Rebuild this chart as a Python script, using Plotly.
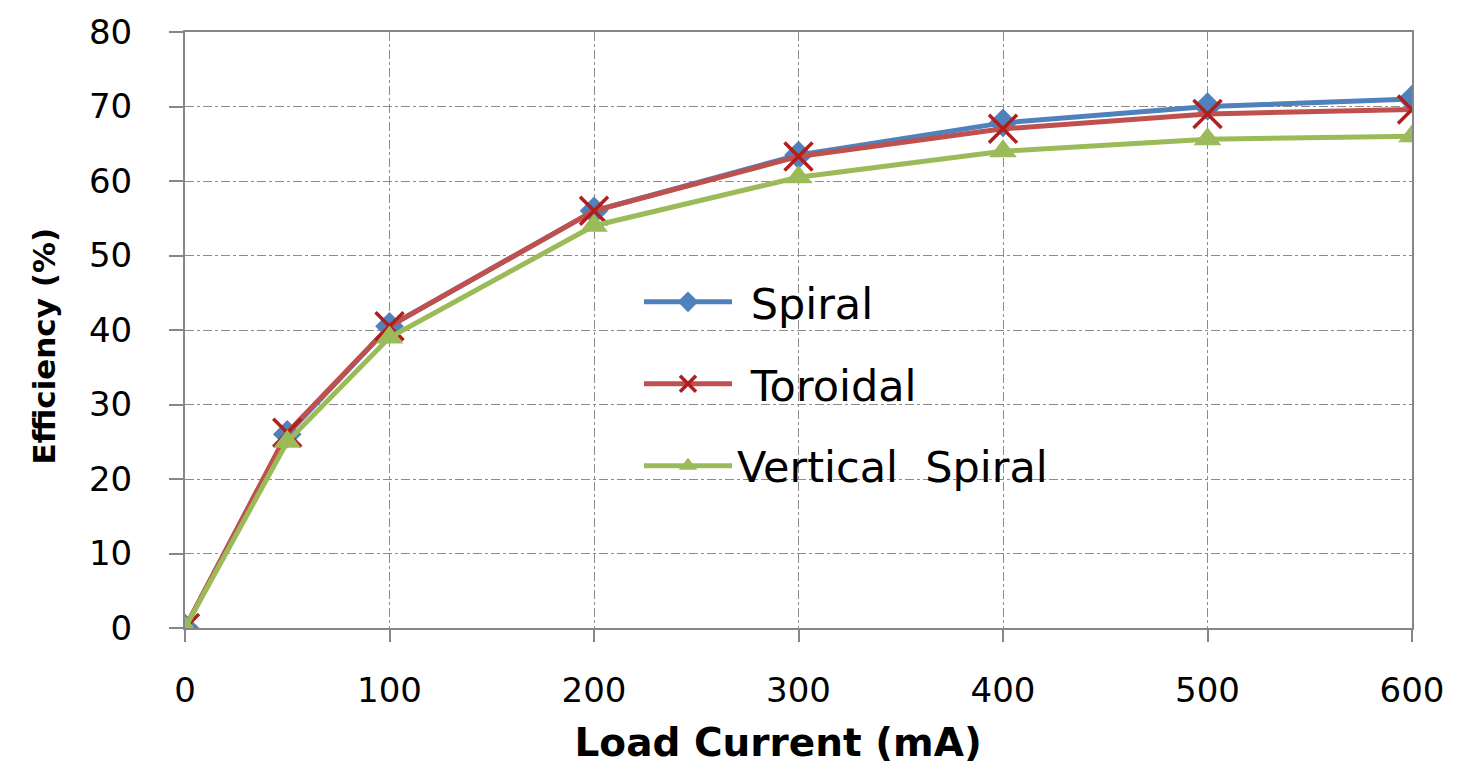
import plotly.graph_objects as go

load_current = [0, 50, 100, 200, 300, 400, 500, 600]
spiral = [0, 26, 40.5, 56, 63.5, 67.8, 70, 71]
toroidal = [0, 26.2, 40.5, 56, 63.3, 67, 69, 69.6]
vertical_spiral = [0, 25, 39, 54, 60.5, 64, 65.6, 66]

x_ticks = [0, 100, 200, 300, 400, 500, 600]
y_ticks = [0, 10, 20, 30, 40, 50, 60, 70, 80]

fig = go.Figure()
fig.add_trace(go.Scatter(x=load_current, y=spiral, mode="lines+markers",
                         name="\u00a0Spiral", legendgroup="a",
                         line=dict(color="#4F81BD", width=5),
                         marker=dict(symbol="diamond", size=22, color="#4F81BD")))
fig.add_trace(go.Scatter(x=load_current, y=toroidal, mode="lines+markers",
                         name="\u00a0Toroidal", legendgroup="b",
                         line=dict(color="#C0504D", width=5),
                         marker=dict(symbol="x-thin", size=28,
                                     line=dict(color="#B01E1E", width=3.5))))
fig.add_trace(go.Scatter(x=load_current, y=vertical_spiral, mode="lines+markers",
                         name="Vertical\u00a0\u00a0Spiral", legendgroup="c",
                         line=dict(color="#9BBB59", width=5),
                         marker=dict(symbol="triangle-up", size=24, color="#9BBB59")))

fig.update_layout(
    width=1457, height=773,
    margin=dict(l=185, r=45, t=25, b=145),
    plot_bgcolor="white", paper_bgcolor="white",
    font=dict(family="DejaVu Sans", color="black"),
    showlegend=True,
    legend=dict(x=0.37, y=0.605, xanchor="left", yanchor="top",
                bgcolor="rgba(255,255,255,0)", font=dict(size=43),
                traceorder="grouped", tracegroupgap=23, itemwidth=88),
)
fig.update_xaxes(range=[0, 600], tickvals=x_ticks, showgrid=True,
                 gridcolor="#8C8C8C", griddash="dashdot", gridwidth=1,
                 showline=True, linecolor="#868686", linewidth=2, mirror=True,
                 ticks="outside", ticklen=12, tickcolor="#868686", tickwidth=2,
                 tickfont=dict(size=34), ticklabelstandoff=19,
                 zeroline=False,
                 title=dict(text="<b>Load Current (mA)\u00a0\u00a0\u00a0</b>",
                            font=dict(size=39), standoff=20))
fig.update_yaxes(range=[0, 80], tickvals=y_ticks, showgrid=True,
                 gridcolor="#8C8C8C", griddash="dashdot", gridwidth=1,
                 showline=True, linecolor="#868686", linewidth=2, mirror=True,
                 ticks="outside", ticklen=14, tickcolor="#868686", tickwidth=2,
                 tickfont=dict(size=34), ticklabelstandoff=30,
                 zeroline=False,
                 title=dict(text="<b>Efficiency (%)\u00a0\u00a0\u00a0</b>",
                            font=dict(size=31), standoff=24))

fig.write_html("out.html", config={"displayModeBar": False},
               post_script="document.body.style.margin='0';")
